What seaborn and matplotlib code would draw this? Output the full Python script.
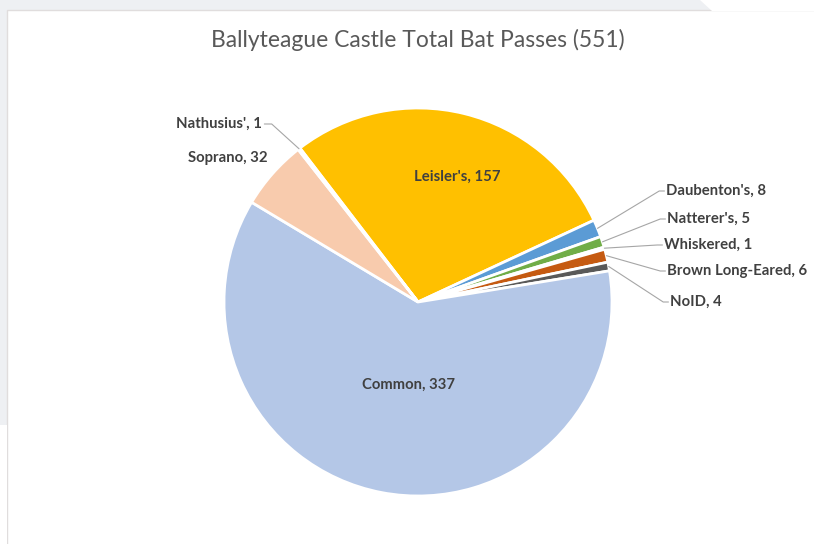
import numpy as np
import matplotlib.pyplot as plt
import seaborn as sns
from matplotlib.patches import Rectangle, Polygon

# data (clockwise, starting with Leisler's)
species = ["Leisler's", "Daubenton's", "Natterer's", "Whiskered", "Brown Long-Eared",
           "NoID", "Common", "Soprano", "Nathusius'"]
passes = [157, 8, 5, 1, 6, 4, 337, 32, 1]
colours = ["#FFC000", "#5B9BD5", "#70AD47", "#264478", "#C55A11",
           "#595959", "#B4C7E7", "#F8CBAD", "#A5A5A5"]
title = "Ballyteague Castle Total Bat Passes (" + str(sum(passes)) + ")"

sns.set_theme(style="white")
plt.rcParams['font.family'] = ['Lato', 'DejaVu Sans']

W, H = 814, 544
cx, cy, R = 418, 302, 194  # pie centre and radius in pixels

fig = plt.figure(figsize=(W / 100, H / 100), dpi=100)
fig.patch.set_facecolor("#EEF0F3")
# white chart card
fig.patches.append(Rectangle((7 / W, -0.01), 1, (H - 10) / H + 0.01, transform=fig.transFigure,
                             facecolor="white", edgecolor="#E0DDDD", lw=1.0, zorder=-2))
fig.patches.append(Polygon([(700 / W, 1), (1, 1), (1, (H - 10.5) / H), (712 / W, (H - 10.5) / H)],
                           closed=True, transform=fig.transFigure,
                           facecolor="white", edgecolor="none", zorder=-2))
fig.patches.append(Rectangle((0, 0), 6.5 / W, (H - 425) / H, transform=fig.transFigure,
                             facecolor="white", edgecolor="none", zorder=-2))

ax = fig.add_axes([0, 0, 1, 1])
ax.patch.set_alpha(0)

wedges, _ = ax.pie(passes, colors=colours, startangle=127.5, counterclock=False,
                   wedgeprops=dict(edgecolor="white", linewidth=2.0))

ax.set_aspect('auto')
ax.set_xlim(-cx / R, (W - cx) / R)
ax.set_ylim((cy - H) / R, cy / R)
ax.axis('off')

def px(x, y):
    return (x - cx) / R, (cy - y) / R

lab_kw = dict(fontsize=10.7, fontweight='bold', color="#404040")

# labels inside the big slices
inside = {"Leisler's": (457, 177), "Common": (408, 385)}
# labels outside, left-aligned at these pixel spots
outside = {"Daubenton's": (666, 191), "Natterer's": (667, 219), "Whiskered": (664, 245),
           "Brown Long-Eared": (667, 271), "NoID": (670, 302)}

for w, s, v in zip(wedges, species, passes):
    text = f"{s}, {v}"
    if s in inside:
        ax.text(*px(*inside[s]), text, ha='center', va='center', **lab_kw)
        continue
    mid = np.deg2rad((w.theta1 + w.theta2) / 2)
    ex, ey = np.cos(mid) * 1.0, np.sin(mid) * 1.0
    if s in outside:
        tx, ty = px(*outside[s])
        ax.text(tx, ty, text, ha='left', va='center', **lab_kw)
        ax.plot([ex, tx - 0.035, tx - 0.008], [ey, ty, ty], color="#A6A6A6", lw=0.8)
    elif s == "Nathusius'":
        tx, ty = px(262, 124)
        ax.text(tx, ty, text, ha='right', va='center', **lab_kw)
        ax.plot([ex, tx + 0.05, tx + 0.012], [ey, ty, ty], color="#A6A6A6", lw=0.8)
    else:  # Soprano
        tx, ty = px(268, 158)
        ax.text(tx, ty, text, ha='right', va='center', **lab_kw)

fig.text(418 / W, (H - 40) / H, title, ha='center', va='center',
         fontsize=16.5, color="#595959")

plt.savefig("out.png", dpi=100, facecolor=fig.get_facecolor())
